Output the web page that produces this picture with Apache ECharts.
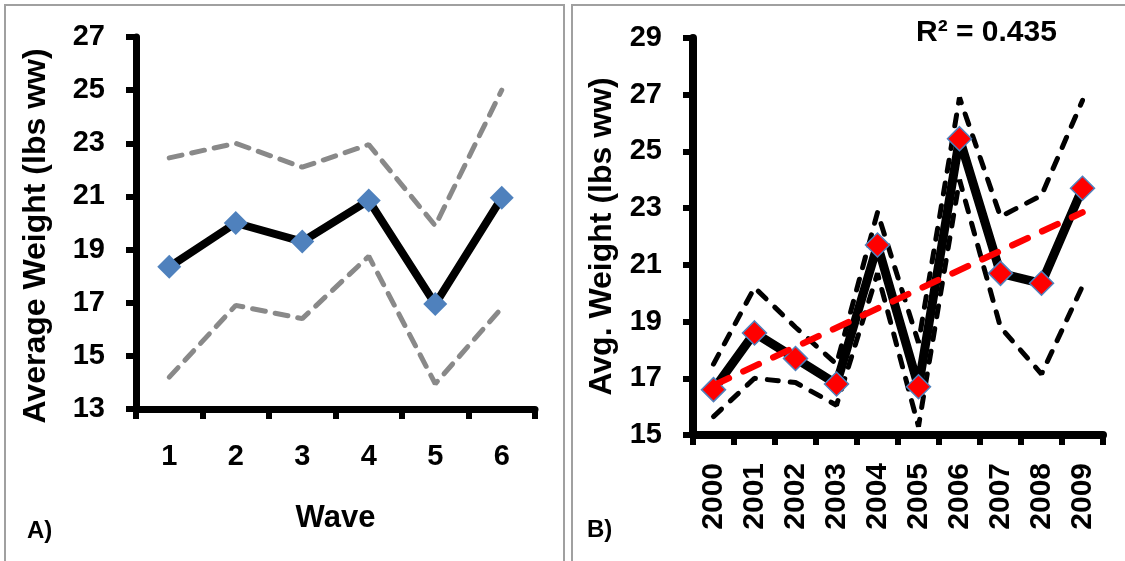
<!DOCTYPE html>
<html>
<head>
<meta charset="utf-8">
<script src="https://cdn.jsdelivr.net/npm/echarts@6/dist/echarts.min.js"></script>
<style>
html,body{margin:0;padding:0;background:#fff;}
#chart{width:1125px;height:561px;}
</style>
</head>
<body>
<div id="chart"></div>
<script>
// panel A - by wave
var waves = ['1', '2', '3', '4', '5', '6'];
var waveMean = [18.35, 20.0, 19.3, 20.85, 16.95, 20.95];
var waveUpper = [22.45, 23.0, 22.1, 22.95, 19.9, 25.0];
var waveLower = [14.2, 16.9, 16.4, 18.75, 13.95, 16.8];

// panel B - by year
var years = ['2000', '2001', '2002', '2003', '2004', '2005', '2006', '2007', '2008', '2009'];
var yearMean = [16.6, 18.6, 17.7, 16.8, 21.7, 16.7, 25.45, 20.7, 20.35, 23.7];
var yearUpper = [17.5, 20.2, 18.8, 17.5, 22.85, 18.25, 26.9, 22.7, 23.45, 26.8];
var yearLower = [15.65, 17.0, 16.85, 16.05, 20.7, 15.3, 24.0, 18.8, 17.15, 20.25];
// trend line ends
var trendStart = 16.75, trendEnd = 22.85;
var rSquared = 'R² = 0.435';

var FONT = '"Liberation Sans", Arial, sans-serif';

var trendData = years.map(function (y, i) {
    if (i == 0) return trendStart;
    if (i == years.length - 1) return trendEnd;
    return null;
});

function axisX(gridIndex, data, lw, extra) {
    var ax = {
        type: 'category',
        gridIndex: gridIndex,
        data: data,
        boundaryGap: true,
        axisLine: {lineStyle: {color: '#000', width: lw}},
        axisTick: {show: true, alignWithLabel: false, length: 10, lineStyle: {color: '#000', width: 6}},
        splitLine: {show: false},
        axisLabel: {color: '#000', fontFamily: FONT, fontWeight: 'bold', fontSize: 29, margin: 33}
    };
    for (var k in extra) ax[k] = extra[k];
    return ax;
}

function axisY(gridIndex, min, max, lw, name, gap) {
    return {
        type: 'value',
        gridIndex: gridIndex,
        min: min, max: max, interval: 2,
        name: name,
        nameLocation: 'middle',
        nameGap: gap,
        nameTextStyle: {color: '#000', fontFamily: FONT, fontWeight: 'bold', fontSize: 32},
        axisLine: {show: true, lineStyle: {color: '#000', width: lw}},
        axisTick: {show: true, length: 10, lineStyle: {color: '#000', width: 6}},
        splitLine: {show: false},
        axisLabel: {color: '#000', fontFamily: FONT, fontWeight: 'bold', fontSize: 29, margin: 31}
    };
}

var chart = echarts.init(document.getElementById('chart'));
var option = {
    animation: false,
    backgroundColor: '#fff',
    grid: [
        {left: 136, top: 37, width: 399, height: 372},
        {left: 693, top: 38, width: 410, height: 397}
    ],
    xAxis: [
        axisX(0, waves, 7, {
            name: 'Wave', nameLocation: 'middle', nameGap: 94,
            nameTextStyle: {color: '#000', fontFamily: FONT, fontWeight: 'bold', fontSize: 31}
        }),
        axisX(1, years, 8, {
            axisLabel: {color: '#000', fontFamily: FONT, fontWeight: 'bold', fontSize: 30, margin: 28, rotate: 90}
        })
    ],
    yAxis: [
        axisY(0, 13, 27, 7, '', 80),
        axisY(1, 15, 29, 8, 'Avg. Weight (lbs ww)', 75)
    ],
    series: [
        // A
        {
            type: 'line', xAxisIndex: 0, yAxisIndex: 0, data: waveUpper,
            symbol: 'none', lineStyle: {color: '#898989', width: 5, type: [13, 10], cap: 'round'}
        },
        {
            type: 'line', xAxisIndex: 0, yAxisIndex: 0, data: waveLower,
            symbol: 'none', lineStyle: {color: '#898989', width: 5, type: [13, 10], cap: 'round'}
        },
        {
            type: 'line', xAxisIndex: 0, yAxisIndex: 0, data: waveMean,
            symbol: 'diamond', symbolSize: 24, showAllSymbol: true,
            itemStyle: {color: '#4F81BD'},
            lineStyle: {color: '#000', width: 8, join: 'round'}, z: 3
        },
        // B
        {
            type: 'line', xAxisIndex: 1, yAxisIndex: 1, data: yearMean,
            symbol: 'diamond', symbolSize: 24, showAllSymbol: true,
            itemStyle: {color: '#FF0000', borderColor: '#4F81BD', borderWidth: 1.5},
            lineStyle: {color: '#000', width: 9, join: 'round'}
        },
        {
            type: 'line', xAxisIndex: 1, yAxisIndex: 1, data: yearUpper,
            symbol: 'none', lineStyle: {color: '#000', width: 5, type: [11, 12], cap: 'round'}
        },
        {
            type: 'line', xAxisIndex: 1, yAxisIndex: 1, data: yearLower,
            symbol: 'none', lineStyle: {color: '#000', width: 5, type: [11, 12], cap: 'round'}
        },
        {
            type: 'line', xAxisIndex: 1, yAxisIndex: 1, data: trendData, connectNulls: true,
            symbol: 'none', lineStyle: {color: '#FF0000', width: 6.5, type: [17, 16], cap: 'round'}, z: 4
        }
    ],
    graphic: [
        {type: 'rect', shape: {x: 5, y: 5, width: 559, height: 600}, style: {fill: 'none', stroke: '#a0a0a0', lineWidth: 2}, silent: true},
        {type: 'rect', shape: {x: 572, y: 5, width: 600, height: 600}, style: {fill: 'none', stroke: '#a0a0a0', lineWidth: 2}, silent: true},
        // y title of panel A sits a little below the grid middle
        {type: 'text', x: 36, y: 236, rotation: Math.PI / 2,
            style: {text: 'Average Weight (lbs ww)', fill: '#000', font: 'bold 32px ' + FONT, align: 'center', verticalAlign: 'middle'}},
        {type: 'text', left: 27, top: 519, style: {text: 'A)', fill: '#000', font: 'bold 24px ' + FONT}},
        {type: 'text', left: 587, top: 518, style: {text: 'B)', fill: '#000', font: 'bold 24px ' + FONT}},
        {type: 'text', left: 916, top: 18, style: {text: rSquared, fill: '#000', font: 'bold 30px ' + FONT}}
    ]
};
chart.setOption(option);
</script>
</body>
</html>
